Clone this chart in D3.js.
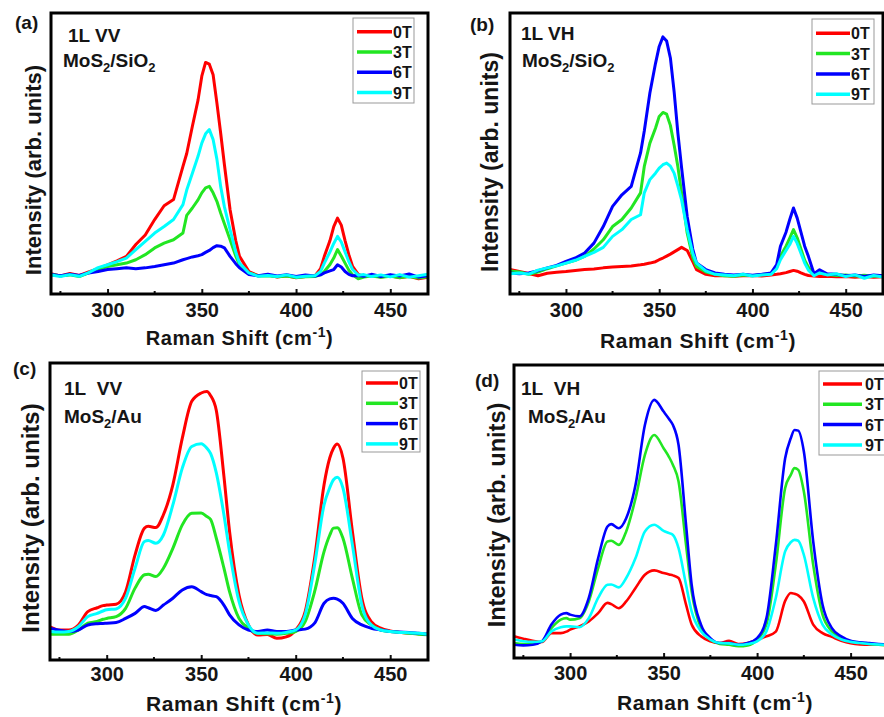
<!DOCTYPE html>
<html>
<head>
<meta charset="utf-8">
<script src="https://cdn.jsdelivr.net/npm/d3@7"></script>
<style>
  body { margin: 0; background: #fff; }
  svg text { font-family: "Liberation Sans", Arial, sans-serif; font-weight: bold; fill: #151515; }
</style>
</head>
<body>
<svg id="chart" width="884" height="717"></svg>
<script>
const FIELDS = ['0T', '3T', '6T', '9T'];
const COLORS = ['#ff0000', '#22e622', '#0000ff', '#00ffff'];
const X_TICKS = [300, 350, 400, 450];
const X_MINOR = [275, 325, 375, 425];

// Raman shift grid, MoS2 on SiO2 (noisy spectra)
const shiftSiO2 = [270, 275, 280, 285, 290, 295, 300, 305, 310, 315, 320, 325, 330, 335, 340, 342, 345, 348, 350, 352,
  354, 356, 358, 360, 362, 365, 368, 370, 375, 380, 385, 390, 395, 400, 405, 410, 413, 415, 418, 420,
  422, 424, 426, 428, 430, 433, 436, 440, 445, 450, 455, 460, 465, 470];

// (a) 1L VV on SiO2, intensity in arb. units
const vvSiO2_0T = [7.2, 6.4, 7.3, 6.6, 7.9, 9.0, 10.4, 11.8, 13.4, 17.6, 21, 26.5, 31.4, 33.6, 45.4, 50, 59.7, 69, 77.5, 82.4,
  81.8, 78, 68, 57.3, 46, 30, 19, 13.4, 8, 6.5, 6.8, 6.0, 6.5, 5.8, 6.2, 6.4, 9, 13.4, 19, 24,
  27, 24.5, 19, 14, 9.8, 7, 6.3, 6.7, 6.0, 6.5, 5.8, 6.3, 5.4, 6.0];
const vvSiO2_3T = [6.9, 6.5, 6.8, 6.2, 7.5, 8.6, 9.8, 10.4, 11, 12.2, 14, 16.4, 18.1, 19.3, 21.7, 28, 30.6, 33.5, 36, 37.8,
  38.3, 36, 33, 28.8, 25, 19.3, 13.5, 10.4, 7.5, 6.4, 6.5, 6.1, 6.4, 5.9, 6.1, 6.2, 6.8, 8, 10.5, 12.8,
  15.8, 13.5, 11, 8.5, 6.8, 5.4, 6.0, 6.4, 6.0, 6.3, 5.9, 6.2, 5.7, 6.1];
const vvSiO2_6T = [6.9, 6.5, 7.0, 6.6, 7.5, 8.0, 8.7, 9.0, 9.3, 9.0, 9.3, 9.8, 10.4, 11.0, 12.2, 12.6, 13.2, 13.6, 14, 14.8,
  15.5, 16.5, 17.2, 17, 16.4, 13.4, 10.8, 9.3, 6.9, 6.5, 7.0, 6.4, 6.9, 6.2, 6.8, 6.4, 6.8, 7.5, 8.2, 8.7,
  10.4, 9.6, 8.0, 7.0, 6.5, 6.6, 6.3, 7.0, 6.2, 6.9, 6.4, 7.1, 6.0, 6.5];
const vvSiO2_9T = [6.8, 6.2, 6.9, 6.3, 7.6, 9.4, 10.4, 11.5, 12.8, 15.8, 18.7, 21.7, 24, 26.5, 31.8, 37, 43, 49, 53.7, 57,
  58.5, 55, 48, 38.3, 31, 22.9, 15, 11, 7.5, 6.3, 6.6, 6.2, 6.8, 6.0, 6.3, 6.5, 8, 11, 15, 18,
  20.5, 18.5, 15, 11.5, 8.7, 6.7, 6.9, 6.2, 6.8, 6.1, 6.9, 6.0, 6.5, 7.0];

// (b) 1L VH on SiO2
const vhSiO2_0T = [8.7, 8.0, 7.3, 6.5, 7.4, 7.7, 8.0, 8.4, 8.7, 8.9, 9.3, 9.6, 9.8, 10.0, 10.4, 10.6, 11, 11.5, 12.2, 12.8,
  13.5, 14.2, 15, 15.8, 16.6, 15.5, 11.5, 8.7, 7.0, 6.5, 6.6, 6.3, 6.5, 6.6, 6.4, 6.8, 7.0, 7.2, 7.6, 8.0,
  8.4, 8.1, 7.5, 7.0, 6.6, 6.4, 6.2, 6.3, 6.1, 6.2, 6.0, 6.2, 6.0, 6.1];
const vhSiO2_3T = [8.2, 7.8, 7.0, 7.8, 9.0, 10.0, 11, 12.0, 13.4, 16, 19.3, 24, 26.5, 30.6, 36, 45.4, 53.7, 59, 63.2, 64.6,
  64, 60, 53, 45.4, 36, 21.7, 13, 9.8, 7.8, 7.0, 6.5, 6.3, 6.8, 6.5, 6.9, 7.2, 9.5, 13.4, 17, 19.9,
  22.9, 20, 16, 12, 9.5, 7.0, 7.5, 7.0, 6.6, 6.8, 6.4, 6.7, 6.3, 6.5];
const vhSiO2_6T = [7.5, 7.2, 7.5, 8.3, 9.3, 10.2, 11.6, 12.8, 14.6, 18.1, 24, 31.2, 35.3, 38.3, 50.2, 58, 71.5, 82, 88.1, 91.5,
  90, 84, 72, 57.3, 45, 27.6, 16, 11, 8.7, 7.5, 7.0, 6.8, 7.0, 6.7, 7.0, 7.5, 10.5, 17, 22, 26.5,
  30.6, 27, 22, 17, 13.4, 7.2, 8.6, 7.2, 7.0, 6.5, 6.8, 6.2, 6.8, 6.5];
const vhSiO2_9T = [7.2, 7.5, 7.1, 8.5, 9.3, 10, 11, 12.0, 13.4, 14.8, 16.6, 20.5, 22.9, 26.5, 28.2, 36, 40.7, 43, 44.8, 46,
  46.6, 45.5, 43, 38.5, 33.5, 22.9, 14.5, 11, 8.2, 7.0, 6.8, 6.5, 7.0, 6.4, 6.8, 7.0, 9.0, 12.2, 15.5, 17.6,
  20.5, 18, 14.5, 11, 8.5, 6.5, 7.5, 6.8, 7.2, 6.2, 6.8, 5.6, 6.6, 6.0];

// Raman shift grid, MoS2 on Au (smooth spectra)
const shiftAu = [270, 275, 280, 285, 290, 295, 298, 300, 305, 310, 315, 320, 322, 326, 330, 335, 340, 345, 350, 353,
  355, 358, 362, 365, 370, 375, 380, 385, 390, 395, 400, 405, 410, 415, 418, 420, 422, 425, 430, 435,
  440, 445, 450, 455, 460, 465, 470];

// (c) 1L VV on Au
const vvAu_0T = [11.2, 10.1, 10.1, 11.8, 16.3, 17.6, 18.3, 18.5, 18.8, 23, 35.4, 44.4, 45, 44.6, 48.9, 59, 74.7, 87.1, 89.9, 90.4,
  89, 84, 62, 43.3, 21.9, 11.8, 8.4, 8.6, 7.3, 7.8, 10.1, 16.3, 34.3, 59, 68, 71.3, 72.7, 68, 43.3, 20.8,
  12.9, 10.7, 9.8, 9.3, 9.0, 8.8, 8.7];
const vvAu_3T = [8.7, 8.7, 8.7, 10.1, 12.4, 13.0, 13.7, 14, 14.6, 17.4, 24.2, 28.7, 28.9, 28.1, 30.9, 37.6, 45.5, 49.4, 49.5, 48.3,
  47.3, 41, 31, 23, 14, 10.7, 9.0, 8.8, 8.7, 9.0, 9.6, 12.9, 23, 36.5, 42, 44.4, 44.5, 41, 27.5, 15.2,
  11.8, 10.1, 9.6, 9.3, 9.0, 8.7, 8.5];
const vvAu_6T = [10.7, 10.0, 9.6, 10.1, 11.8, 12.2, 12.3, 12.4, 12.6, 14, 15.7, 18, 17.6, 16.7, 18.5, 20.8, 23.6, 24.7, 23, 22,
  21.7, 21.3, 18.5, 15.2, 11.8, 10.1, 9.6, 10.1, 9.6, 9.6, 10.1, 10.4, 12.4, 19.1, 20.6, 20.8, 20.5, 19.1, 14, 11.8,
  10.7, 10.1, 9.6, 9.4, 9.3, 9.0, 8.7];
const vvAu_9T = [9.6, 9.4, 9.6, 11.2, 14.6, 15.7, 16.5, 16.9, 17.2, 20.8, 30.9, 39.9, 40.2, 39.3, 42.1, 52.2, 64.6, 71.9, 72.8, 71.3,
  69.5, 63, 49, 36.5, 19.7, 11.8, 9, 9.1, 9.0, 9.3, 10.1, 15.2, 32, 52.2, 58, 60.7, 61.5, 57.9, 38.8, 18.5,
  11.8, 10.1, 9.6, 9.3, 9.2, 9.0, 8.7];

// (d) 1L VH on Au
const vhAu_0T = [7.4, 6.6, 5.9, 5.5, 8.5, 8.5, 9.0, 9.7, 10.8, 12.5, 15.3, 18.8, 18.4, 17, 19.3, 23.9, 28.4, 29.9, 29, 28.5,
  28.2, 27.3, 18.2, 11.4, 7.4, 5.7, 5.1, 5.9, 4.8, 5.1, 6.3, 7.4, 9.0, 19.5, 22.2, 21.9, 21.4, 19.3, 11.4, 8.5,
  7.2, 5.9, 5.0, 4.6, 4.5, 4.5, 4.5];
const vhAu_3T = [5.1, 4.8, 4.8, 5.7, 10.2, 13.1, 13.6, 13.1, 13.6, 19.3, 30.7, 39.8, 40, 38.6, 43.2, 54.5, 69.3, 76.1, 71.6, 68.5,
  65.9, 60.2, 38.6, 22.7, 10.2, 6.3, 4.8, 4.5, 4.0, 4.3, 6.3, 11.4, 31.8, 58, 62.5, 64.8, 64.2, 56.8, 31.8, 14.8,
  9.1, 6.8, 5.7, 5.2, 4.8, 4.5, 4.3];
const vhAu_6T = [4.5, 4.3, 4.5, 5.7, 11.4, 14.8, 15.3, 14.8, 14.2, 20.5, 34.1, 44.9, 45.7, 44.3, 47.7, 59.1, 79.5, 88.1, 84.1, 81.5,
  79.5, 72.7, 45.5, 25, 11.4, 6.8, 5.1, 5.1, 4.5, 5.1, 6.8, 13.6, 38.6, 68.2, 75, 77.8, 77.6, 70.5, 39.8, 18.2,
  10.2, 7.4, 5.9, 5.4, 5.1, 4.8, 4.5];
const vhAu_9T = [6.3, 5.7, 5.5, 5.7, 9.1, 10.5, 10.8, 10.8, 10.5, 13.6, 20.5, 25, 25.1, 24.1, 27.3, 34.1, 43.2, 45.5, 43.4, 42.6,
  42, 37.5, 25, 15.9, 9.1, 6.3, 5.1, 5.0, 4.5, 4.8, 5.7, 9.1, 20.5, 36.4, 39.5, 40.3, 40, 35.2, 20.5, 11.4,
  8, 6.3, 5.5, 5.1, 4.8, 4.6, 4.5];

const panels = [
  {
    tag: '(a)', mode: '1L VV', sub: '/SiO', sub2: true,
    shift: shiftSiO2, series: [vvSiO2_0T, vvSiO2_3T, vvSiO2_6T, vvSiO2_9T], curve: d3.curveLinear, lw: 3,
    frame: {l: 51, t: 13, r: 428, b: 294},
    tagPos: [15, 29], modePos: [68, 42], chemPos: [63, 67],
    legend: {bx: 353, by: 18, bw: 61, bh: 85, x1: 357, x2: 392, tx: 393, ry: 31.7},
    ylab: {x: 41, cy: 170, size: 22}, xlab: {cx: 239.5, y: 345, size: 20}, tickY: 317
  },
  {
    tag: '(b)', mode: '1L VH', sub: '/SiO', sub2: true,
    shift: shiftSiO2, series: [vhSiO2_0T, vhSiO2_3T, vhSiO2_6T, vhSiO2_9T], curve: d3.curveLinear, lw: 3,
    frame: {l: 510, t: 13, r: 883, b: 294},
    tagPos: [470, 31], modePos: [521, 40], chemPos: [522, 67],
    legend: {bx: 812, by: 19, bw: 62, bh: 85, x1: 816, x2: 850, tx: 851, ry: 33.3},
    ylab: {x: 498, cy: 162, size: 23}, xlab: {cx: 698, y: 348, size: 21}, tickY: 317
  },
  {
    tag: '(c)', mode: '1L\u00a0\u00a0VV', sub: '/Au', sub2: false,
    shift: shiftAu, series: [vvAu_0T, vvAu_3T, vvAu_6T, vvAu_9T], curve: d3.curveMonotoneX, lw: 3,
    frame: {l: 50, t: 363, r: 428, b: 660},
    tagPos: [13, 375], modePos: [64, 395], chemPos: [64, 423],
    legend: {bx: 362, by: 371, bw: 58, bh: 81, x1: 366, x2: 398, tx: 399, ry: 383},
    ylab: {x: 39, cy: 518, size: 24}, xlab: {cx: 244, y: 711, size: 21}, tickY: 681
  },
  {
    tag: '(d)', mode: '1L\u00a0\u00a0VH', sub: '/Au', sub2: false,
    shift: shiftAu, series: [vhAu_0T, vhAu_3T, vhAu_6T, vhAu_9T], curve: d3.curveMonotoneX, lw: 2.6,
    frame: {l: 514, t: 365, r: 888, b: 658},
    tagPos: [475, 387], modePos: [521, 395], chemPos: [528, 423],
    legend: {bx: 819, by: 371, bw: 70, bh: 84, x1: 823, x2: 862, tx: 865, ry: 384},
    ylab: {x: 505, cy: 515, size: 23.5}, xlab: {cx: 715, y: 710, size: 21}, tickY: 680
  }
];

const svg = d3.select('#chart');
svg.append('rect').attr('width', 884).attr('height', 717).style('fill', '#fff');

function drawPanel(p, idx) {
  const f = p.frame;
  const x = d3.scaleLinear().domain([270, 470]).range([f.l, f.r]);
  const y = d3.scaleLinear().domain([0, 100]).range([f.b, f.t]);
  const g = svg.append('g');

  const clipId = 'clip' + idx;
  g.append('clipPath').attr('id', clipId)
    .append('rect')
    .attr('x', f.l).attr('y', f.t)
    .attr('width', f.r - f.l).attr('height', f.b - f.t);

  const line = d3.line()
    .x((d, i) => x(p.shift[i]))
    .y(d => y(d))
    .curve(p.curve);

  g.append('g').attr('clip-path', `url(#${clipId})`)
    .selectAll('path')
    .data(p.series)
    .enter()
    .append('path')
    .attr('d', d => line(d))
    .style('fill', 'none')
    .style('stroke', (d, i) => COLORS[i])
    .style('stroke-width', p.lw)
    .style('stroke-linejoin', 'round');

  // inward ticks on the bottom axis
  const axis = d3.axisBottom(x)
    .tickValues(X_TICKS)
    .tickSizeInner(-5)
    .tickSizeOuter(0)
    .tickPadding(0)
    .tickFormat(d3.format('d'));
  const ax = g.append('g').attr('transform', `translate(0,${f.b})`).call(axis);
  ax.select('.domain').remove();
  ax.selectAll('line').style('stroke', '#111').style('stroke-width', 2);
  ax.selectAll('text')
    .attr('y', p.tickY - f.b)
    .attr('dy', null)
    .style('font-size', '20px')
    .style('font-family', '"Liberation Sans", Arial, sans-serif')
    .style('font-weight', 'bold')
    .style('fill', '#151515');

  g.append('g').selectAll('line')
    .data(X_MINOR)
    .enter()
    .append('line')
    .attr('x1', d => x(d)).attr('x2', d => x(d))
    .attr('y1', f.b).attr('y2', f.b - 3)
    .style('stroke', '#111').style('stroke-width', 2);

  g.append('rect')
    .attr('x', f.l).attr('y', f.t)
    .attr('width', f.r - f.l).attr('height', f.b - f.t)
    .style('fill', 'none')
    .style('stroke', '#000')
    .style('stroke-width', 3);

  // panel letter, mode and substrate
  g.append('text').attr('x', p.tagPos[0]).attr('y', p.tagPos[1])
    .style('font-size', '19px').text(p.tag);
  g.append('text').attr('x', p.modePos[0]).attr('y', p.modePos[1])
    .style('font-size', '19px').text(p.mode);

  const chem = g.append('text').attr('x', p.chemPos[0]).attr('y', p.chemPos[1])
    .style('font-size', '19px');
  chem.append('tspan').text('MoS');
  chem.append('tspan').attr('dy', 5).style('font-size', '13px').text('2');
  chem.append('tspan').attr('dy', -5).text(p.sub);
  if (p.sub2) {
    chem.append('tspan').attr('dy', 5).style('font-size', '13px').text('2');
  }

  // legend
  const L = p.legend;
  g.append('rect')
    .attr('x', L.bx).attr('y', L.by).attr('width', L.bw).attr('height', L.bh)
    .style('fill', '#fff').style('stroke', '#999').style('stroke-width', 1);
  const rows = g.selectAll('.leg' + idx)
    .data(FIELDS)
    .enter()
    .append('g')
    .attr('transform', (d, i) => 'translate(0,' + (L.ry + i * 20.3) + ')');
  rows.append('line')
    .attr('x1', L.x1).attr('x2', L.x2).attr('y1', 0).attr('y2', 0)
    .style('stroke', (d, i) => COLORS[i])
    .style('stroke-width', 3.5);
  rows.append('text')
    .attr('x', L.tx).attr('y', 6)
    .style('font-size', '16px')
    .text(d => d);

  // axis titles
  const xt = g.append('text')
    .attr('x', p.xlab.cx).attr('y', p.xlab.y)
    .attr('text-anchor', 'middle')
    .style('font-size', p.xlab.size + 'px')
    .style('letter-spacing', '0.6px');
  xt.append('tspan').text('Raman Shift (cm');
  xt.append('tspan').attr('dy', -8).style('font-size', '14px').text('-1');
  xt.append('tspan').attr('dy', 8).text(')');

  g.append('text')
    .attr('transform', `translate(${p.ylab.x},${p.ylab.cy}) rotate(-90)`)
    .attr('text-anchor', 'middle')
    .style('font-size', p.ylab.size + 'px')
    .text('Intensity (arb. units)');
}

panels.forEach(drawPanel);
</script>
</body>
</html>
